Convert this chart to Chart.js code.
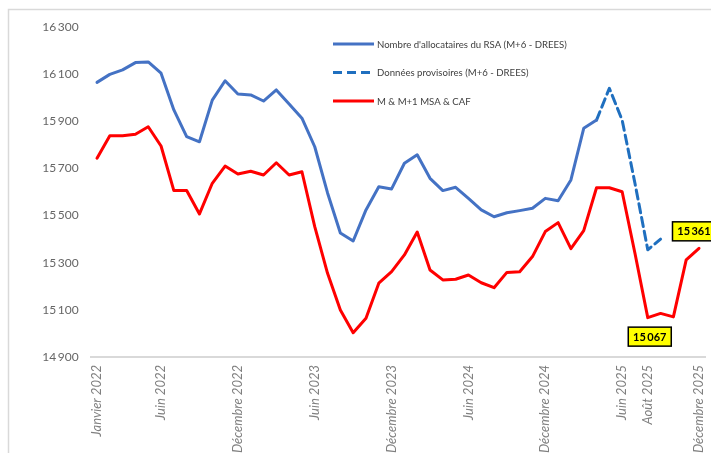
<!DOCTYPE html>
<html>
<head>
<meta charset="utf-8">
<script src="https://cdn.jsdelivr.net/npm/chart.js@4"></script>
<style>
  html, body { margin: 0; padding: 0; background: #fff; }
  #wrap { position: relative; width: 711px; height: 453px; }
</style>
</head>
<body>
<div id="wrap"><canvas id="rsaChart" width="711" height="453"></canvas></div>
<script>
// Months / categories
const months = ['Janvier', 'Février', 'Mars', 'Avril', 'Mai', 'Juin', 'Juillet', 'Août',
  'Septembre', 'Octobre', 'Novembre', 'Décembre'];
const years = [2022, 2023, 2024, 2025];
const categories = years.flatMap(y => months.map(m => m + ' ' + y));
const shownTicks = [0, 5, 11, 17, 23, 29, 35, 41, 43, 47];

// Series
const rsaDrees = [16065, 16099, 16118, 16149, 16152, 16104, 15948, 15835, 15813, 15990, 16072, 16016,
  16012, 15986, 16033, 15973, 15913, 15792, 15596, 15426, 15392, 15524, 15622, 15613,
  15722, 15758, 15658, 15606, 15620, 15573, 15524, 15495, 15512, 15521, 15531, 15573,
  15563, 15651, 15870, 15905, null, null, null, null, null, null, null, null];
const provisoire = [null, null, null, null, null, null, null, null, null, null, null, null,
  null, null, null, null, null, null, null, null, null, null, null, null,
  null, null, null, null, null, null, null, null, null, null, null, null,
  null, null, null, 15905, 16040, 15905, 15637, 15355, 15400, null, null, null];
const msaCaf = [15743, 15839, 15839, 15845, 15877, 15795, 15606, 15606, 15507, 15637, 15710, 15676,
  15688, 15672, 15724, 15672, 15686, 15453, 15255, 15099, 15003, 15064, 15213, 15262,
  15333, 15430, 15269, 15227, 15230, 15248, 15215, 15194, 15259, 15262, 15326, 15432,
  15470, 15360, 15436, 15618, 15618, 15601, 15340, 15067, 15085, 15070, 15312, 15361];
const calloutIdx = [43, 47];

const yTicks = [14900, 15100, 15300, 15500, 15700, 15900, 16100, 16300];
const seriesNames = ["Nombre d'allocataires du RSA (M+6 - DREES)", 'Données provisoires (M+6 - DREES)', 'M & M+1 MSA & CAF'];

const fontFamily = 'Lato, "Open Sans", sans-serif';
const fmt = v => String(v).replace(/\B(?=(\d{3})+(?!\d))/g, '\u2009');

// frame + legend + callouts
const decorPlugin = {
  id: 'decor',
  beforeDraw(chart) {
    const ctx = chart.ctx;
    ctx.save();
    ctx.fillStyle = '#fff';
    ctx.fillRect(0, 0, chart.width, chart.height);
    ctx.strokeStyle = '#d9d9d9';
    ctx.lineWidth = 1.5;
    ctx.strokeRect(8.5, 9.5, chart.width + 20, chart.height + 20);
    ctx.restore();
  },
  afterDatasetsDraw(chart) {
    const ctx = chart.ctx;
    ctx.save();
    // legend
    const items = chart.data.datasets;
    items.forEach((ds, i) => {
      const y = 44 + i * 28.5;
      ctx.strokeStyle = ds.borderColor;
      ctx.lineWidth = 3;
      ctx.setLineDash(ds.borderDash || []);
      ctx.beginPath();
      ctx.moveTo(333, y);
      ctx.lineTo(374, y);
      ctx.stroke();
      ctx.setLineDash([]);
      ctx.fillStyle = '#404040';
      ctx.font = '9.6px ' + fontFamily;
      ctx.textBaseline = 'middle';
      ctx.textAlign = 'left';
      ctx.fillText(ds.label, 377, y + 0.5);
    });
    // callouts
    const xs = chart.scales.x, ys = chart.scales.y;
    const boxes = [{ i: calloutIdx[0], dx: 2, dy: 19 }, { i: calloutIdx[1], dx: -5, dy: -17 }];
    boxes.forEach(b => {
      const cx = xs.getPixelForValue(b.i) + b.dx;
      const cy = ys.getPixelForValue(msaCaf[b.i]) + b.dy;
      const w = 43, h = 19;
      ctx.fillStyle = '#ffff00';
      ctx.fillRect(cx - w / 2, cy - h / 2, w, h);
      ctx.strokeStyle = '#000';
      ctx.lineWidth = 1.5;
      ctx.strokeRect(cx - w / 2, cy - h / 2, w, h);
      ctx.fillStyle = '#000';
      ctx.font = 'bold 11px ' + fontFamily;
      ctx.textAlign = 'center';
      ctx.textBaseline = 'middle';
      ctx.fillText(fmt(msaCaf[b.i]), cx, cy + 0.5);
    });
    ctx.restore();
  }
};

const config = {
  type: 'line',
  data: {
    labels: categories,
    datasets: [
      { label: seriesNames[0], data: rsaDrees, borderColor: '#4472c4', borderWidth: 3 },
      { label: seriesNames[1], data: provisoire, borderColor: '#1f6fbf', borderWidth: 3, borderDash: [9, 5] },
      { label: seriesNames[2], data: msaCaf, borderColor: '#ff0000', borderWidth: 3 }
    ]
  },
  options: {
    responsive: false,
    animation: false,
    layout: { padding: { top: 27, right: 5.6, left: 0, bottom: 0 } },
    elements: {
      point: { radius: 0, hoverRadius: 0 },
      line: { tension: 0, borderCapStyle: 'round', borderJoinStyle: 'round' }
    },
    plugins: {
      legend: { display: false },
      tooltip: { enabled: false }
    },
    scales: {
      x: {
        offset: true,
        grid: { display: false, drawTicks: false },
        border: { display: true, color: '#d9d9d9', width: 2 },
        afterFit: s => { s.height = 96; s.paddingLeft = 0; s.paddingRight = 0; },
        ticks: {
          autoSkip: false,
          maxRotation: 90,
          minRotation: 90,
          padding: 8,
          color: '#808080',
          font: { family: fontFamily, size: 13, style: 'italic' },
          callback: (v, i) => shownTicks.includes(i) ? categories[i] : ''
        }
      },
      y: {
        min: yTicks[0],
        max: yTicks[yTicks.length - 1],
        grid: { display: false, drawTicks: false },
        border: { display: false },
        afterFit: s => { s.width = 90.6; s.paddingTop = 0; s.paddingBottom = 0; },
        afterBuildTicks: s => { s.ticks = yTicks.map(v => ({ value: v })); },
        ticks: {
          padding: 12,
          color: '#666666',
          font: { family: fontFamily, size: 12 },
          callback: v => fmt(v)
        }
      }
    }
  },
  plugins: [decorPlugin]
};

const canvas = document.getElementById('rsaChart');
var rsaChart = new Chart(canvas, config);
</script>
</body>
</html>
